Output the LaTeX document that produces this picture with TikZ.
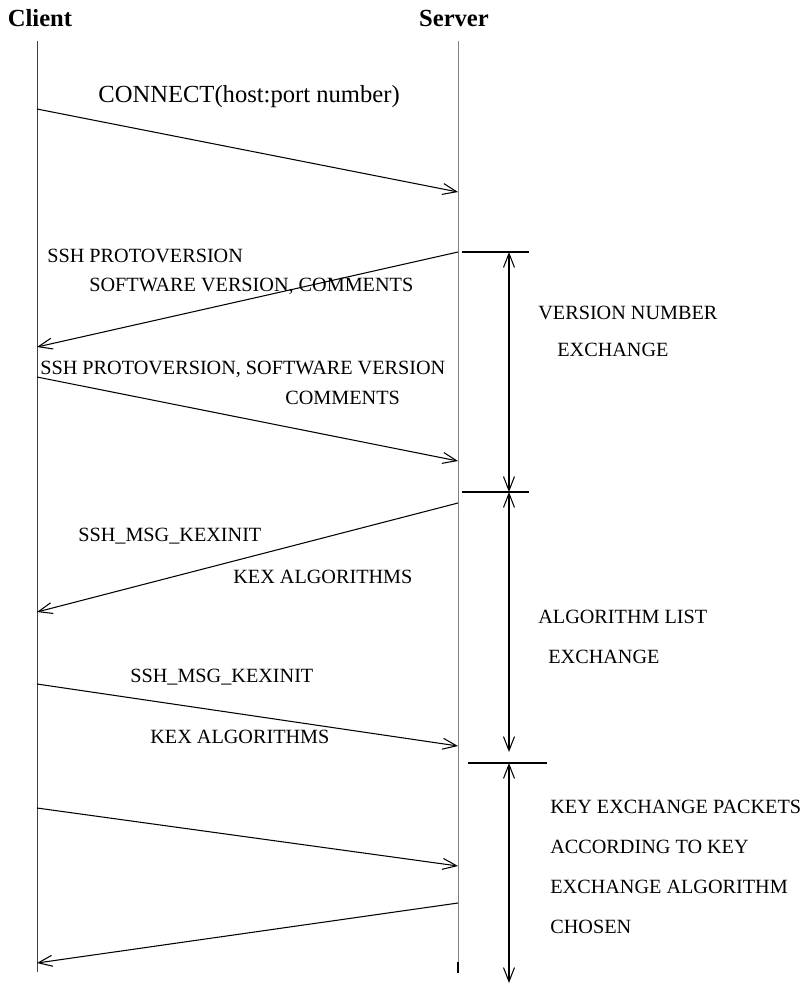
\documentclass[tikz,border=0pt]{standalone}
\usepackage{fontspec}
\setmainfont{Liberation Serif}
\usepackage{tikz}
\usetikzlibrary{arrows.meta, positioning, calc}

\tikzstyle{lifeline} = [draw=gray, line width=0.55pt]
\tikzstyle{msg} = [line width=0.6pt, -{Straight Barb[length=2.8mm, width=2.2mm]}]

\begin{document}
\begin{tikzpicture}[
		x=0.2mm, y=-0.2mm,
		head/.style={font=\fontsize{14}{16}\selectfont\bfseries, inner sep=0pt},
		lbl/.style={anchor=west, inner sep=0pt, font=\fontsize{11.5}{13}\selectfont},
		biglbl/.style={anchor=west, inner sep=0pt, font=\fontsize{14}{16}\selectfont},
		tick/.style={line width=0.6pt},
		span/.style={line width=0.6pt, {Straight Barb[length=2.8mm, width=2.2mm]}-{Straight Barb[length=2.8mm, width=2.2mm]}}
		]
		\useasboundingbox (0,0) rectangle (808,985);
		
		% Nodos
		\node[head] (client) at (40,18) {Client};
		\node[head] (server) at (454,18) {Server};
		
		\coordinate (ctop) at (37,41);
		\coordinate (cbot) at (37,972);
		\coordinate (stop) at (458,41);
		\coordinate (sbot) at (458,973);
		\coordinate (sstub) at (458,962);
		
		% Lineas de vida
		\draw[lifeline, draw=black!75] (ctop) -- (cbot);
		\draw[lifeline] (stop) -- (sbot);
		\draw[line width=1pt] (sstub) -- (sbot);
		
		% Extremos de los mensajes
		\coordinate (c1) at (37,109);  \coordinate (s1) at (458,192);
		\coordinate (s2) at (458,252); \coordinate (c2) at (37,347);
		\coordinate (c3) at (37,377);  \coordinate (s3) at (458,461);
		\coordinate (s4) at (458,503); \coordinate (c4) at (37,612);
		\coordinate (c5) at (37,684);  \coordinate (s5) at (458,746);
		\coordinate (c6) at (37,808);  \coordinate (s6) at (458,866);
		\coordinate (s7) at (458,903); \coordinate (c7) at (37,963);
		
		% Flechas
		\draw[msg] (c1) -- (s1);
		\draw[msg] (s2) -- (c2);
		\draw[msg] (c3) -- (s3);
		\draw[msg] (s4) -- (c4);
		\draw[msg] (c5) -- (s5);
		\draw[msg] (c6) -- (s6);
		\draw[msg] (s7) -- (c7);
		
		% Etiquetas de los mensajes
		\node[biglbl] (connect) at (98,97) {CONNECT(host:port number)};
		\node[lbl] (proto1) at (47,256) {SSH PROTOVERSION};
		\node[lbl] (soft1) at (89,286) {SOFTWARE VERSION, COMMENTS};
		\node[lbl] (proto2) at (40,369) {SSH PROTOVERSION, SOFTWARE VERSION};
		\node[lbl] (comm2) at (285,398) {COMMENTS};
		\node[lbl] (kexinit1) at (78,536) {SSH\_MSG\_KEXINIT};
		\node[lbl] (kexalg1) at (233,577) {KEX ALGORITHMS};
		\node[lbl] (kexinit2) at (130,677) {SSH\_MSG\_KEXINIT};
		\node[lbl] (kexalg2) at (150,737) {KEX ALGORITHMS};
		
		% Fases
		\coordinate (ta1) at (462,252); \coordinate (tb1) at (529,252);
		\coordinate (ta2) at (462,492); \coordinate (tb2) at (529,492);
		\coordinate (ta3) at (468,763); \coordinate (tb3) at (547,763);
		\draw[tick] (ta1) -- (tb1);
		\draw[tick] (ta2) -- (tb2);
		\draw[tick] (ta3) -- (tb3);
		
		\coordinate (v1) at (509,252);
		\coordinate (v2) at (509,492);
		\coordinate (v3) at (509,752);
		\coordinate (v4) at (509,763);
		\coordinate (v5) at (509,983);
		\draw[span] (v1) -- (v2);
		\draw[span] (v2) -- (v3);
		\draw[span] (v4) -- (v5);
		
		\node[lbl] (vers) at (538,313) {VERSION NUMBER};
		\node[lbl] (versx) at (557,350) {EXCHANGE};
		\node[lbl] (alg) at (538,617) {ALGORITHM LIST};
		\node[lbl] (algx) at (548,657) {EXCHANGE};
		\node[lbl] (key1) at (550,807) {KEY EXCHANGE PACKETS};
		\node[lbl] (key2) at (550,847) {ACCORDING TO KEY};
		\node[lbl] (key3) at (550,887) {EXCHANGE ALGORITHM};
		\node[lbl] (key4) at (550,927) {CHOSEN};
		
	\end{tikzpicture}
\end{document}
